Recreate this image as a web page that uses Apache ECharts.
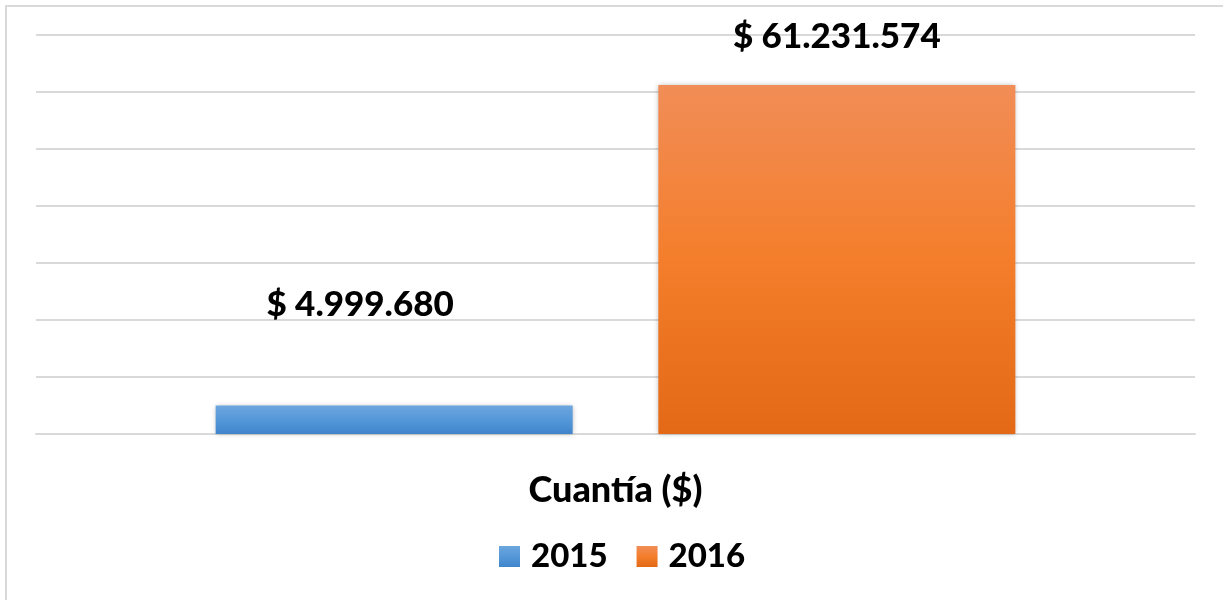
<!DOCTYPE html>
<html>
<head>
<meta charset="utf-8">
<script src="https://cdn.jsdelivr.net/npm/echarts@6/dist/echarts.min.js"></script>
<style>
  html, body { margin: 0; padding: 0; background: #fff; }
  #main { width: 1223px; height: 600px; }
</style>
</head>
<body>
<div id="main"></div>
<script>
// data
var categories = ['Cuantía ($)'];
var years = ['2015', '2016'];
var values2015 = [4999680];
var values2016 = [61231574];
var valueLabels = ['$ 4.999.680', '$ 61.231.574'];

var FONT = 'Lato';

function grad(top, mid, bottom) {
  return new echarts.graphic.LinearGradient(0, 0, 0, 1, [
    { offset: 0, color: top },
    { offset: 0.5, color: mid },
    { offset: 1, color: bottom }
  ]);
}

var chart = echarts.init(document.getElementById('main'), null, { renderer: 'canvas' });

var option = {
  animation: false,
  backgroundColor: '#fff',
  graphic: [{
    type: 'rect',
    shape: { x: 6, y: 6, width: 1300, height: 700 },
    style: { fill: 'none', stroke: '#d9d9d9', lineWidth: 2 },
    silent: true
  }],
  grid: { left: 36, right: 28, top: 35, bottom: 166 },
  legend: {
    data: years,
    left: 499,
    top: 540,
    padding: 0,
    itemWidth: 21,
    itemHeight: 21,
    itemGap: 29,
    icon: 'rect',
    textStyle: { fontFamily: FONT, fontWeight: 900, fontSize: 33, color: '#000', padding: [0, 0, 0, 6] }
  },
  xAxis: {
    type: 'category',
    data: categories,
    axisTick: { show: false },
    axisLine: { lineStyle: { color: '#d9d9d9', width: 2 } },
    axisLabel: { margin: 38, fontFamily: FONT, fontWeight: 900, fontSize: 36, color: '#000', lineHeight: 36 }
  },
  yAxis: {
    type: 'value',
    min: 0,
    max: 70000000,
    interval: 10000000,
    axisLabel: { show: false },
    axisLine: { show: false },
    axisTick: { show: false },
    splitLine: { lineStyle: { color: '#d9d9d9', width: 2 } }
  },
  series: [{
    name: years[0],
    type: 'bar',
    data: values2015,
    barWidth: 357,
    barGap: '24%',
    itemStyle: {
      color: grad('#6ca6de', '#5598d9', '#3f85ca'),
      shadowBlur: 5,
      shadowColor: 'rgba(0,0,0,0.3)'
    },
    label: {
      show: true,
      position: 'top',
      distance: 83,
      offset: [-34, 0],
      formatter: function () { return valueLabels[0]; },
      fontFamily: FONT, fontWeight: 900, fontSize: 35, color: '#000', lineHeight: 35
    }
  }, {
    name: years[1],
    type: 'bar',
    data: values2016,
    barWidth: 357,
    itemStyle: {
      color: grad('#f18d57', '#f47e2b', '#e36916'),
      shadowBlur: 5,
      shadowColor: 'rgba(0,0,0,0.3)'
    },
    label: {
      show: true,
      position: 'top',
      distance: 31,
      formatter: function () { return valueLabels[1]; },
      fontFamily: FONT, fontWeight: 900, fontSize: 35, color: '#000', lineHeight: 35
    }
  }]
};

chart.setOption(option);
</script>
</body>
</html>
